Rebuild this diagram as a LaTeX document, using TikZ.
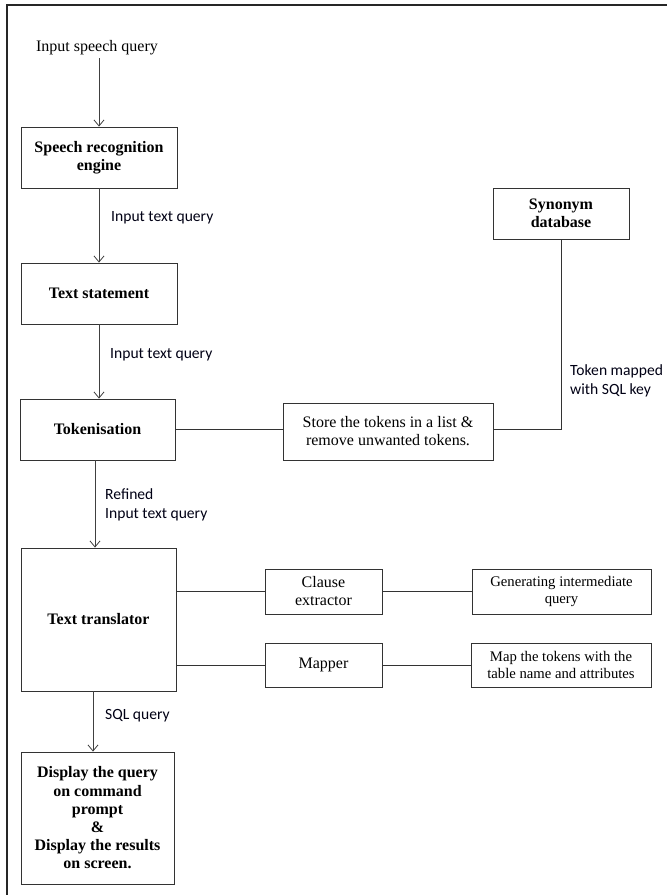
\documentclass[tikz,border=0pt]{standalone}
\usepackage{fontspec}
\setmainfont{Liberation Serif}
\newfontfamily\lblfont{Carlito}
\usetikzlibrary{arrows.meta}
\begin{document}
\begin{tikzpicture}[x=1pt,y=-1pt,
 box/.style={draw=black!80, line width=0.9pt, inner sep=0pt, align=center},
 arr/.style={draw=black!75, line width=0.8pt, -{Straight Barb[length=6pt,width=10pt]}},
 conn/.style={draw=black!80, line width=0.8pt},
 lbl/.style={font=\lblfont\fontsize{15.6}{19.5}\selectfont, text=black!92!blue, inner sep=0pt, anchor=west, align=left},
 bt/.style={font=\bfseries\fontsize{16}{17.5}\selectfont},
 nt/.style={font=\fontsize{16}{18}\selectfont},
 st/.style={font=\fontsize{14.7}{17.5}\selectfont},
]
\useasboundingbox (0,0) rectangle (667,895);
\draw[line width=2.5pt, black!85] (667,5) -- (7,5) -- (7,895);

\node[nt, inner sep=1pt] (in) at (97,48) {Input speech query};
\node[box,bt,minimum width=156,minimum height=61] (sre) at (99,157.5) {Speech recognition\\engine};
\node[box,bt,minimum width=156,minimum height=61] (ts) at (99,293.5) {Text statement};
\node[box,bt,minimum width=155,minimum height=61] (tok) at (97.5,429.5) {Tokenisation};
\node[box,nt,minimum width=210,minimum height=57] (store) at (388,431.5) {Store the tokens in a list \&\\remove unwanted tokens.};
\node[box,bt,minimum width=136,minimum height=51] (syn) at (561,213.5) {Synonym\\database};
\node[box,bt,minimum width=155,minimum height=143] (tt) at (98.5,619.5) {Text translator};
\node[box,nt,minimum width=117,minimum height=45] (clause) at (323.5,591.5) {Clause\\extractor};
\node[box,st,minimum width=179,minimum height=45] (gen) at (561.5,591.5) {Generating intermediate\\query};
\node[box,nt,minimum width=117,minimum height=44] (mapper) at (323.5,665) {Mapper};
\node[box,st,minimum width=180,minimum height=44] (map) at (561,665) {Map the tokens with the\\table name and attributes};
\node[box,bt,minimum width=153,minimum height=132,font=\bfseries\fontsize{16}{18.2}\selectfont] (disp) at (97.5,818) {Display the query\\on command\\prompt\\\&\\Display the results\\on screen.};

\node[lbl] (l1) at (111,218) {Input text query};
\node[lbl] (l2) at (110,355) {Input text query};
\node[lbl] (l3) at (105,505) {Refined\\Input text query};
\node[lbl] (l4) at (105,716) {SQL query};
\node[lbl] (l5) at (570,381) {Token mapped\\with SQL key};

\draw[arr, shorten <=2pt] (in.south -| sre.north) -- (sre.north);
\draw[arr] (sre.south) -- (ts.north);
\draw[arr] (ts.south) -- (ts.south |- tok.north);
\draw[arr] ([xshift=-2.5pt]tok.south) -- ([xshift=-2.5pt]tok.south |- tt.north);
\draw[arr] ([xshift=-5.5pt]tt.south) -- ([xshift=-5.5pt]tt.south |- disp.north);
\draw[conn] (tok.east) -- (tok.east -| store.west);
\draw[conn] (syn.south) |- ([yshift=2pt]store.east);
\draw[conn] (tt.east |- clause.west) -- (clause.west);
\draw[conn] (tt.east |- mapper.west) -- (mapper.west);
\draw[conn] (clause.east) -- (gen.west);
\draw[conn] (mapper.east) -- (map.west);
\end{tikzpicture}
\end{document}
